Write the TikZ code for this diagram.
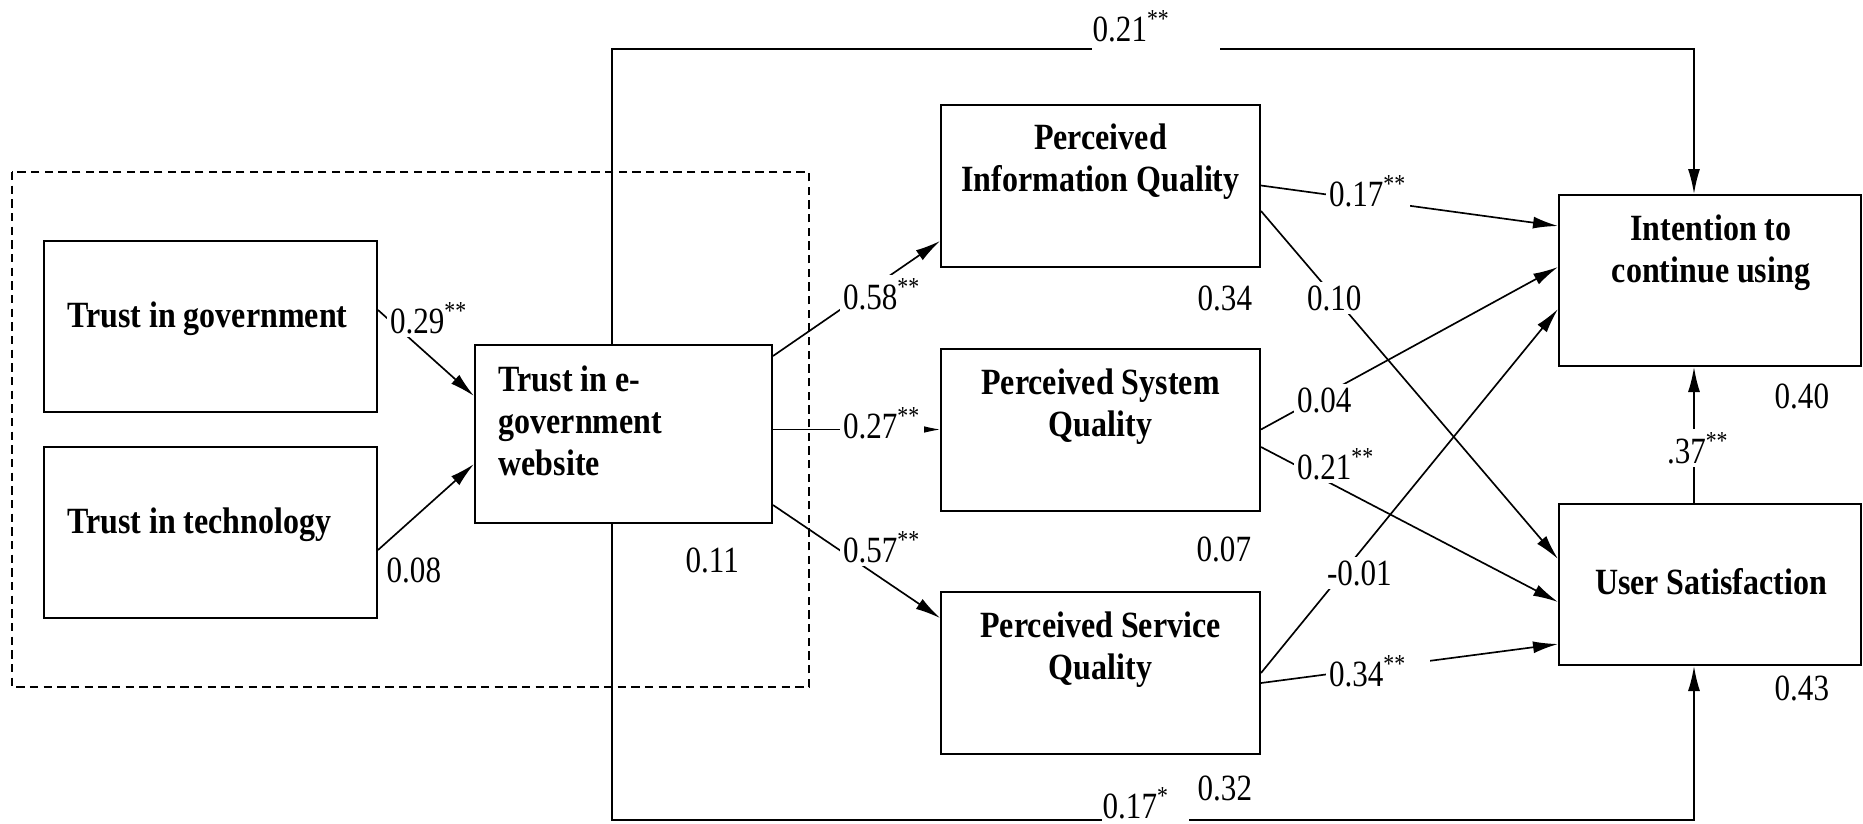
\documentclass[tikz,border=0pt]{standalone}
\usepackage{fontspec}
\setmainfont{Liberation Serif}[FakeStretch=0.84, BoldFeatures={FakeStretch=0.865}]
\usetikzlibrary{arrows.meta,calc}
\begin{document}
\begin{tikzpicture}[x=0.3pt,y=-0.3pt,
  box/.style={draw, line width=0.6pt, inner sep=0pt},
  btxt/.style={font=\fontsize{11.1}{12.6}\selectfont\bfseries, inner sep=0pt},
  lab/.style={font=\fontsize{11.1}{12.6}\selectfont, inner sep=1pt, fill=white, anchor=base west},
  rsq/.style={font=\fontsize{11.1}{12.6}\selectfont, inner sep=0pt, anchor=base west},
  conn/.style={line width=0.5pt},
  arr/.style={conn, -{Latex[length=7.5pt,width=3.6pt]}},
  grp/.style={line width=0.5pt, dash pattern=on 2.5pt off 1.6pt},
]
\useasboundingbox (0,0) rectangle (1863,824);

% group frame
\draw[grp] (12,172) rectangle (809,687);

% boxes
\node[box, minimum width=99.9pt, minimum height=51.3pt] (tg) at (210.5,326.5) {};
\node[box, minimum width=99.9pt, minimum height=51.3pt] (tt) at (210.5,532.5) {};
\node[box, minimum width=89.1pt, minimum height=53.4pt] (tew) at (623.5,434) {};
\node[box, minimum width=95.7pt, minimum height=48.6pt] (piq) at (1100.5,185.5) {};
\node[box, minimum width=95.7pt, minimum height=48.6pt] (psq) at (1100.5,429.5) {};
\node[box, minimum width=95.7pt, minimum height=48.6pt] (psv) at (1100.5,673) {};
\node[box, minimum width=90.6pt, minimum height=51.3pt] (icu) at (1710,280.5) {};
\node[box, minimum width=90.6pt, minimum height=48.3pt] (us) at (1710,584.5) {};

% box texts
\node[btxt, anchor=west] (tgt) at (66.5,319) {Trust in government};
\node[btxt, anchor=west] (ttt) at (66.5,524.5) {Trust in technology};
\node[btxt, anchor=west, align=left] (tewt) at (498,420.5) {Trust in e-\\government\\website};
\node[btxt, align=center] (piqt) at (1100.5,162) {Perceived\\Information Quality};
\node[btxt, align=center] (psqt) at (1100.5,406.5) {Perceived System\\Quality};
\node[btxt, align=center] (psvt) at (1100.5,649.5) {Perceived Service\\Quality};
\node[btxt, align=center] (icut) at (1711,253) {Intention to\\continue using};
\node[btxt] (ust) at (1711,582) {User Satisfaction};

% helper coordinates
\coordinate (lx) at (612,0);
\coordinate (rx) at (1694,0);
\coordinate (topL) at (1092,49);
\coordinate (topR) at (1220,49);
\coordinate (botL) at (1102,820);
\coordinate (botR) at (1189,820);

% connectors
\draw[arr] ($(tg.east)+(0,-16.5)$) -- ($(tew.west)+(0,-38)$);
\draw[arr] ($(tt.east)+(0,17.5)$) -- ($(tew.west)+(0,30)$);
\draw[arr] ($(tew.east)+(0,-78)$) -- ($(piq.west)+(0,55.5)$);
\draw[arr] (tew.east |- psq.west) -- (psq.west);
\draw[arr] ($(tew.east)+(0,71)$) -- ($(psv.west)+(0,-55)$);
\draw[arr] (piq.east) -- ($(icu.west)+(0,-54.5)$);
\draw[arr] ($(piq.east)+(0,25.5)$) -- ($(us.west)+(0,-25.5)$);
\draw[arr] (psq.east) -- ($(icu.west)+(0,-13.5)$);
\draw[arr] ($(psq.east)+(0,17.5)$) -- ($(us.west)+(0,17.5)$);
\draw[arr] (psv.east) -- ($(icu.west)+(0,28.5)$);
\draw[arr] ($(psv.east)+(0,10)$) -- ($(us.west)+(0,59.5)$);
\draw[arr] (us.north -| rx) -- (icu.south -| rx);
\draw[conn] (tew.north -| lx) |- (topL);
\draw[arr] (topR) -| (icu.north -| rx);
\draw[conn] (tew.south -| lx) |- (botL);
\draw[arr] (botR) -| (us.south -| rx);

% path coefficients
\node[lab] (l1) at (386,333) {0.29\textsuperscript{**}};
\node[rsq] (l2) at (386,582) {0.08};
\node[lab] (l3) at (839,309) {0.58\textsuperscript{**}};
\node[lab] (l4) at (839,438) {0.27\textsuperscript{**}};
\node[lab] (l5) at (839,562) {0.57\textsuperscript{**}};
\node[rsq] (l6) at (1092,41) {0.21\textsuperscript{**}};
\node[rsq] (l7) at (1102,818) {0.17\textsuperscript{*}};
\node[lab] (l8) at (1325,206) {0.17\textsuperscript{**}};
\node[lab] (l9) at (1303,310) {0.10};
\node[lab] (l10) at (1293,412) {0.04};
\node[lab] (l11) at (1293,479) {0.21\textsuperscript{**}};
\node[lab] (l12) at (1323,585) {-0.01};
\node[lab] (l13) at (1325,686) {0.34\textsuperscript{**}\kern6pt\rule{0pt}{0pt}};
\node[lab] (l14) at (1663,463) {.37\textsuperscript{**}};

% explained variance
\node[rsq] (r1) at (685,572) {0.11};
\node[rsq] (r2) at (1197,310) {0.34};
\node[rsq] (r3) at (1196,561) {0.07};
\node[rsq] (r4) at (1197,800) {0.32};
\node[rsq] (r5) at (1774,408) {0.40};
\node[rsq] (r6) at (1774,700) {0.43};
\end{tikzpicture}
\end{document}
